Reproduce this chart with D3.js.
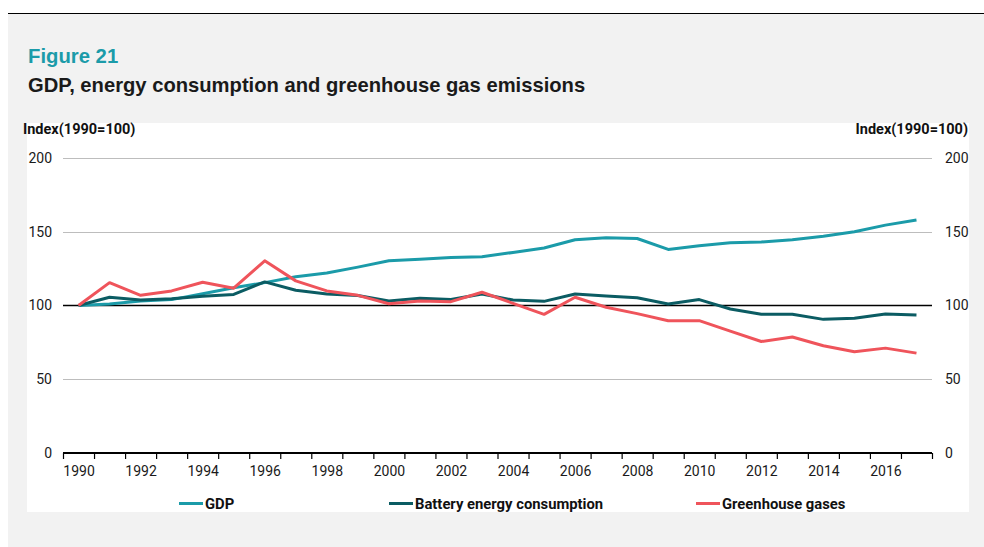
<!DOCTYPE html>
<html>
<head>
<meta charset="utf-8">
<script src="https://cdn.jsdelivr.net/npm/d3@7"></script>
<style>
  html, body { margin: 0; padding: 0; background: #ffffff; }
  svg { display: block; }
</style>
</head>
<body>
<svg id="chart" width="984" height="547"></svg>
<script>
const years = d3.range(1990, 2018);
const gdp = [100, 101, 103, 104, 108, 112, 115.5, 119.5, 122, 126, 130.3, 131.4, 132.5, 133, 136, 139, 144.6, 146, 145.4, 138, 140.5, 142.5, 143, 144.6, 147, 150, 154.5, 158];
const battery = [100, 105.6, 103.8, 104.6, 106.2, 107.5, 116, 110.3, 107.8, 106.8, 103, 104.9, 104, 107.8, 103.7, 102.8, 107.8, 106.5, 105.2, 101, 104, 97.6, 94, 94, 90.6, 91.3, 94.2, 93.5];
const ghg = [100, 115.5, 106.9, 109.9, 115.8, 111.7, 130.3, 116.7, 109.9, 106.9, 101.2, 103, 102.6, 109, 101.5, 94, 105.6, 98.8, 94.5, 89.7, 89.7, 82.6, 75.6, 78.6, 72.7, 68.6, 71.1, 67.7];
const yTicks = [0, 50, 100, 150, 200];
const xLabelYears = d3.range(1990, 2018, 2);
const seriesNames = ["GDP", "Battery energy consumption", "Greenhouse gases"];
const seriesColors = ["#1b9ba9", "#0b5c63", "#ef545b"];

(function () {
const svg = d3.select("#chart");

// backgrounds
svg.append("rect").attr("x", 8).attr("y", 13).attr("width", 976).attr("height", 534).attr("fill", "#f2f2f2");
svg.append("line").attr("x1", 8).attr("x2", 984).attr("y1", 13.5).attr("y2", 13.5).attr("stroke", "#000").attr("stroke-width", 1);
svg.append("rect").attr("x", 27).attr("y", 123).attr("width", 942).attr("height", 389).attr("fill", "#ffffff");

// titles
svg.append("text").attr("x", 28).attr("y", 63)
  .attr("font-family", "Liberation Sans, Arial, sans-serif").attr("font-weight", "bold")
  .attr("font-size", 20.3).attr("fill", "#1b9ba9").text("Figure 21");
svg.append("text").attr("x", 28).attr("y", 92)
  .attr("font-family", "Liberation Sans, Arial, sans-serif").attr("font-weight", "bold")
  .attr("font-size", 20.2).attr("fill", "#1a1a1a").text("GDP, energy consumption and greenhouse gas emissions");

const pLeft = 63, pRight = 932, pTop = 158, pBottom = 453;
const x = d3.scaleLinear().domain([1989.5, 2017.5]).range([pLeft, pRight]);
const y = d3.scaleLinear().domain([0, 200]).range([pBottom, pTop]);

// axis titles
svg.append("text").attr("x", 23).attr("y", 134)
  .attr("font-family", "Roboto, sans-serif").attr("font-weight", "bold").attr("font-size", 14.5)
  .attr("fill", "#111").text("Index(1990=100)");
svg.append("text").attr("x", 968).attr("y", 134).attr("text-anchor", "end")
  .attr("font-family", "Roboto, sans-serif").attr("font-weight", "bold").attr("font-size", 14.5)
  .attr("fill", "#111").text("Index(1990=100)");

// gridlines
svg.append("g").selectAll("line").data(yTicks.filter(d => d !== 0 && d !== 100)).join("line")
  .attr("x1", pLeft).attr("x2", pRight)
  .attr("y1", d => Math.round(y(d)) + 0.5).attr("y2", d => Math.round(y(d)) + 0.5)
  .attr("stroke", "#bdbdbd").attr("stroke-width", 1);

// y axes
const yl = svg.append("g").attr("transform", `translate(${pLeft},0)`)
  .call(d3.axisLeft(y).tickValues(yTicks).tickSize(0).tickPadding(11).tickFormat(d3.format("d")));
const yr = svg.append("g").attr("transform", `translate(${pRight},0)`)
  .call(d3.axisRight(y).tickValues(yTicks).tickSize(0).tickPadding(13).tickFormat(d3.format("d")));
[yl, yr].forEach(g => {
  g.select(".domain").remove();
  g.selectAll("text").attr("font-family", "Roboto, sans-serif").attr("font-size", 14).attr("fill", "#1a1a1a");
});

// x axis ticks at year boundaries
const xt = svg.append("g").attr("transform", `translate(0,${pBottom})`)
  .call(d3.axisBottom(x).tickValues(d3.range(1989.5, 2018, 1)).tickSize(6).tickSizeOuter(0).tickFormat(""));
xt.select(".domain").remove();
xt.selectAll("line").attr("stroke", "#000").attr("stroke-width", 1.2);
const xlab = svg.append("g").attr("transform", `translate(0,${pBottom})`)
  .call(d3.axisBottom(x).tickValues(xLabelYears).tickSize(0).tickPadding(13).tickFormat(d3.format("d")));
xlab.select(".domain").remove();
xlab.selectAll("text").attr("font-family", "Roboto, sans-serif").attr("font-size", 14).attr("fill", "#1a1a1a");

// axis line at 0 and reference line at 100
svg.append("line").attr("x1", pLeft).attr("x2", pRight).attr("y1", y(0)).attr("y2", y(0))
  .attr("stroke", "#000").attr("stroke-width", 2);
svg.append("line").attr("x1", pLeft).attr("x2", pRight).attr("y1", y(100)).attr("y2", y(100))
  .attr("stroke", "#000").attr("stroke-width", 1.5);

// lines
const allSeries = [gdp, battery, ghg];
const line = d3.line().x((d, i) => x(years[i])).y(d => y(d));
allSeries.forEach((s, k) => {
  svg.append("path").datum(s).attr("d", line)
    .attr("fill", "none").attr("stroke", seriesColors[k]).attr("stroke-width", 3)
    .attr("stroke-linejoin", "round");
});

// legend
const legendX = [179, 389, 696];
const lg = svg.append("g");
seriesNames.forEach((n, k) => {
  lg.append("line").attr("x1", legendX[k]).attr("x2", legendX[k] + 24)
    .attr("y1", 503.5).attr("y2", 503.5).attr("stroke", seriesColors[k]).attr("stroke-width", 3);
  lg.append("text").attr("x", legendX[k] + 26).attr("y", 508.5)
    .attr("font-family", "Roboto, sans-serif").attr("font-weight", "bold").attr("font-size", 14.8)
    .attr("fill", "#111").text(n);
});
})();
</script>
</body>
</html>
